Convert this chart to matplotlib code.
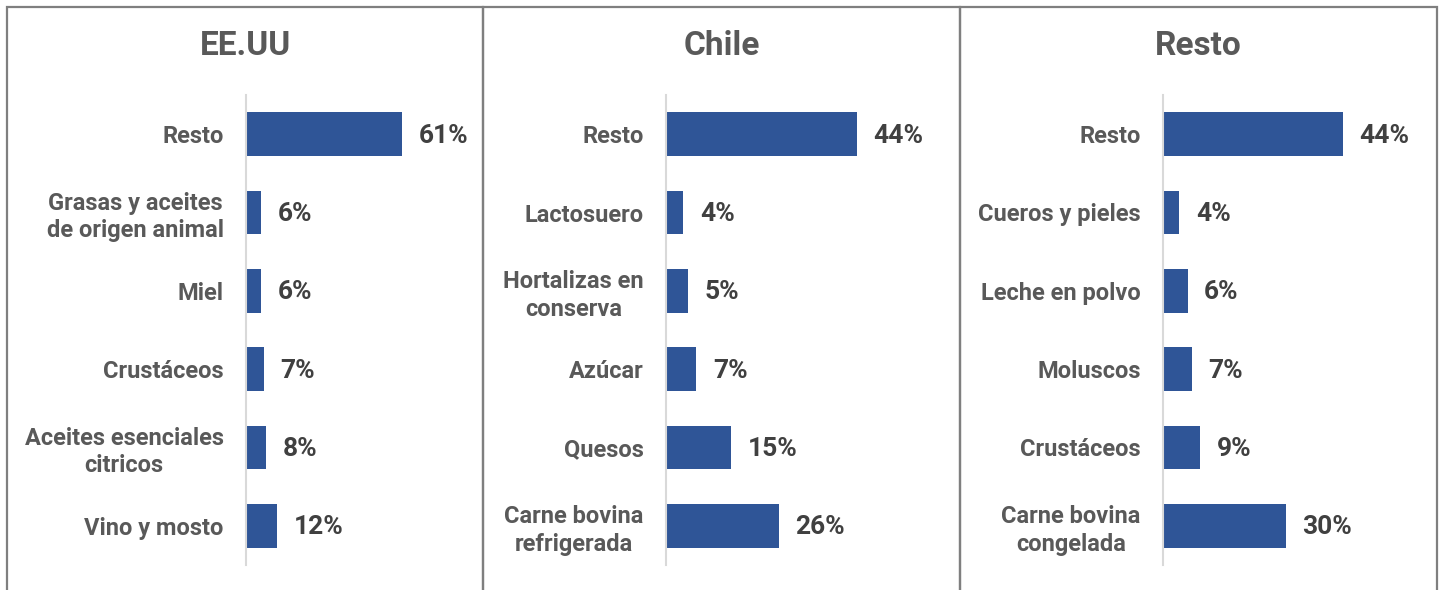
import matplotlib
matplotlib.use('Agg')
import matplotlib.pyplot as plt
from matplotlib.patches import Rectangle

plt.rcParams['font.family'] = ['Roboto', 'DejaVu Sans']

titles = ['EE.UU', 'Chile', 'Resto']

usa_labels = ['Resto', 'Grasas y aceites\nde origen animal', 'Miel', 'Crustáceos',
              'Aceites esenciales\ncitricos', 'Vino y mosto']
usa_values = [0.61, 0.06, 0.06, 0.07, 0.08, 0.12]

chile_labels = ['Resto', 'Lactosuero', 'Hortalizas en\nconserva', 'Azúcar', 'Quesos',
                'Carne bovina\nrefrigerada']
chile_values = [0.44, 0.04, 0.05, 0.07, 0.15, 0.26]

resto_labels = ['Resto', 'Cueros y pieles', 'Leche en polvo', 'Moluscos', 'Crustáceos',
                'Carne bovina\ncongelada']
resto_values = [0.44, 0.04, 0.06, 0.07, 0.09, 0.30]

panels = [(usa_labels, usa_values), (chile_labels, chile_values), (resto_labels, resto_values)]

W, H = 1442, 590
BAR = '#2F5597'
TXT = '#595959'

fig = plt.figure(figsize=(W / 100, H / 100), dpi=100)

# panel frames (pixel coords -> figure fraction)
boxes = [(7, 483), (483, 960), (960, 1437)]
for x0, x1 in boxes:
    fig.patches.append(Rectangle((x0 / W, -0.05), (x1 - x0) / W, (H - 7) / H + 0.05,
                                 transform=fig.transFigure, fill=False,
                                 edgecolor='#7F7F7F', linewidth=1.6))

# axes placement and scale (px per unit) for each panel
ax_left = [246, 666, 1163]
px_per_unit = [256, 434, 409]
ax_w = 220
ax_top, ax_bot = 95, 565

for i, ((labels, values), title) in enumerate(zip(panels, titles)):
    left = ax_left[i]
    ax = fig.add_axes([left / W, 1 - ax_bot / H, ax_w / W, (ax_bot - ax_top) / H])
    y = list(range(len(labels)))
    ax.barh(y, values, height=0.56, color=BAR)
    ax.set_ylim(len(labels) - 0.5, -0.5)
    ax.set_xlim(0, ax_w / px_per_unit[i])
    ax.set_yticks(y)
    ax.set_yticklabels(labels, fontsize=17, fontweight='bold', color=TXT,
                       multialignment='center', linespacing=1.25)
    ax.tick_params(axis='y', length=0, pad=16)
    ax.set_xticks([])
    for s in ['top', 'right', 'bottom']:
        ax.spines[s].set_visible(False)
    ax.spines['left'].set_color('#D9D9D9')
    ax.spines['left'].set_linewidth(1.5)
    for yy, v in zip(y, values):
        ax.annotate(f'{v * 100:.0f}%', (v, yy), xytext=(12, -1), textcoords='offset points',
                    va='center', ha='left', fontsize=19, fontweight='bold', color='#404040',
                    annotation_clip=False)
    x0, x1 = boxes[i]
    fig.text((x0 + x1) / 2 / W, 1 - 46 / H, title, ha='center', va='center',
             fontsize=24, fontweight='bold', color=TXT)

fig.savefig('out.png', dpi=100)
